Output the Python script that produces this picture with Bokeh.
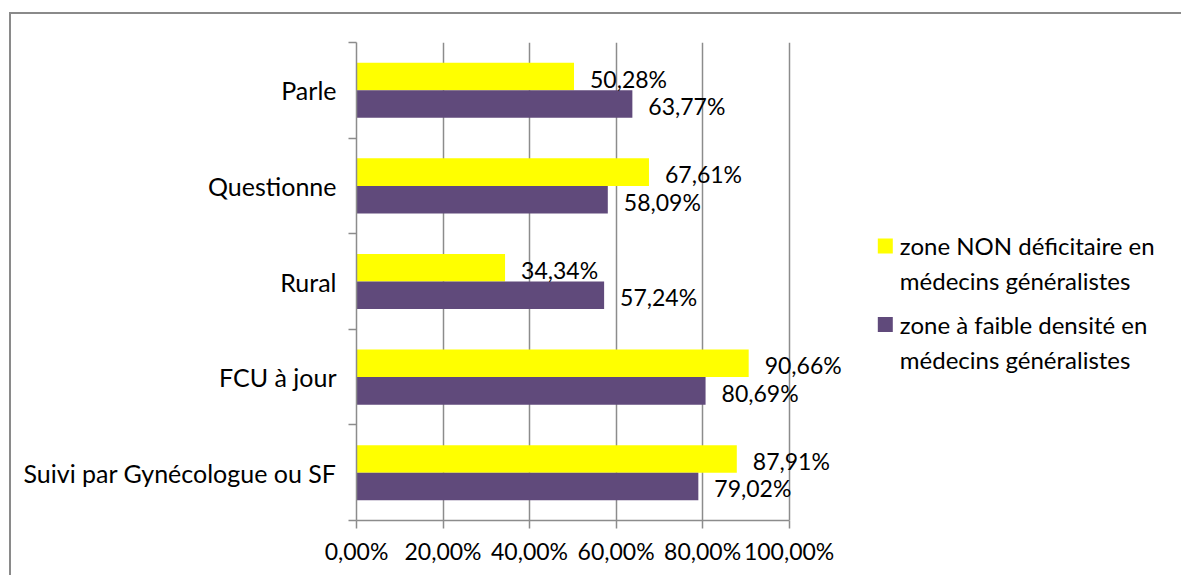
from bokeh.plotting import figure
from bokeh.models import Range1d, FixedTicker, BoxAnnotation, ColumnDataSource
from bokeh.core.properties import value
from bokeh.embed import file_html
from bokeh.resources import INLINE

categories = ["Suivi par Gynécologue ou SF", "FCU à jour", "Rural", "Questionne", "Parle"]
non_deficitaire = [87.91, 90.66, 34.34, 67.61, 50.28]
faible_densite = [79.02, 80.69, 57.24, 58.09, 63.77]
x_ticks = [0, 0.2, 0.4, 0.6, 0.8, 1.0]
x_tick_labels = ["0,00%", "20,00%", "40,00%", "60,00%", "80,00%", "100,00%"]
series_names = ["zone NON déficitaire en\nmédecins généralistes",
                "zone à faible densité en\nmédecins généralistes"]
colors = ["#FFFF00", "#604A7B"]

FONT = "Lato"
FS_NUM = "23px"
FS_TXT = "25px"
FS_LEG = "24px"
GRAY = "#8c8c8c"

PX = 432.6          # pixels per 100 %
FRAME_W = 825
p = figure(frame_width=FRAME_W, frame_height=478, output_backend="svg", toolbar_location=None,
           x_range=Range1d(0, FRAME_W / PX), y_range=Range1d(-0.5, 4.5),
           min_border_left=345, min_border_top=28, min_border_right=0, min_border_bottom=55,
           styles={"margin-left": "9px", "margin-top": "12px",
                   "border-left": "2px solid #8a8a8a", "border-top": "2px solid #8a8a8a"})
p.outline_line_color = None
p.background_fill_color = "white"
p.border_fill_color = "white"

pos = list(range(len(categories)))
bh = 0.288
src = ColumnDataSource(dict(
    y=pos,
    a=[v / 100 for v in non_deficitaire],
    b=[v / 100 for v in faible_densite],
    ya=[y + bh / 2 for y in pos],
    yb=[y - bh / 2 for y in pos],
    la=[f"{v:.2f}%".replace(".", ",") for v in non_deficitaire],
    lb=[f"{v:.2f}%".replace(".", ",") for v in faible_densite],
))
p.hbar(y="ya", left=0, right="a", height=bh, source=src, fill_color=colors[0], line_color=None)
p.hbar(y="yb", left=0, right="b", height=bh, source=src, fill_color=colors[1], line_color=None)
p.text(x="a", y="ya", text="la", source=src, x_offset=16, y_offset=2, text_baseline="middle",
       text_font=value(FONT), text_font_size=FS_NUM, text_color="black")
p.text(x="b", y="yb", text="lb", source=src, x_offset=16, y_offset=2, text_baseline="middle",
       text_font=value(FONT), text_font_size=FS_NUM, text_color="black")

# x axis
p.xaxis.ticker = FixedTicker(ticks=x_ticks)
p.xaxis.bounds = (0, 1.0)
p.xaxis.major_label_overrides = {t: l for t, l in zip(x_ticks, x_tick_labels)}
p.xaxis.axis_line_color = GRAY
p.xaxis.axis_line_width = 1.5
p.xaxis.major_tick_line_color = GRAY
p.xaxis.major_tick_line_width = 1.5
p.xaxis.major_tick_out = 8
p.xaxis.major_tick_in = 0
p.xaxis.minor_tick_line_color = None
p.xaxis.major_label_text_font = FONT
p.xaxis.major_label_text_font_size = FS_NUM
p.xaxis.major_label_text_color = "black"
p.xaxis.major_label_standoff = 8

# y axis
p.yaxis.ticker = FixedTicker(ticks=pos, minor_ticks=[-0.5, 0.5, 1.5, 2.5, 3.5, 4.5])
p.yaxis.major_label_overrides = {i: c for i, c in enumerate(categories)}
p.yaxis.axis_line_color = GRAY
p.yaxis.axis_line_width = 1.5
p.yaxis.major_tick_line_color = None
p.yaxis.major_tick_out = 0
p.yaxis.major_tick_in = 0
p.yaxis.minor_tick_line_color = GRAY
p.yaxis.minor_tick_line_width = 1.5
p.yaxis.minor_tick_out = 8
p.yaxis.minor_tick_in = 0
p.yaxis.major_label_text_font = FONT
p.yaxis.major_label_text_font_size = FS_TXT
p.yaxis.major_label_text_color = "black"
p.yaxis.major_label_standoff = 12

p.xgrid.grid_line_color = GRAY
p.xgrid.grid_line_width = 1.5
p.ygrid.grid_line_color = None

# legend (manual, inside the extended frame)
def dx(sx):
    return (sx - 356.7) / PX

def dy(sy):
    return 4.5 - (sy - 42) / 95.6

leg_x, leg_y, leg_t = [], [], []
for i, (name, col) in enumerate(zip(series_names, colors)):
    top = 238 + i * 78.5
    p.add_layout(BoxAnnotation(left=dx(878), right=dx(893), top=dy(top), bottom=dy(top + 15),
                               fill_color=col, fill_alpha=1, line_color=None))
    for j, line in enumerate(name.split("\n")):
        leg_x.append(dx(900))
        leg_y.append(dy(top + 7 + j * 35))
        leg_t.append(line)
p.text(x=leg_x, y=leg_y, text=leg_t, text_baseline="middle",
       text_font=value(FONT), text_font_size=FS_LEG, text_color="black")

open("out.html", "w").write(file_html(p, INLINE))
